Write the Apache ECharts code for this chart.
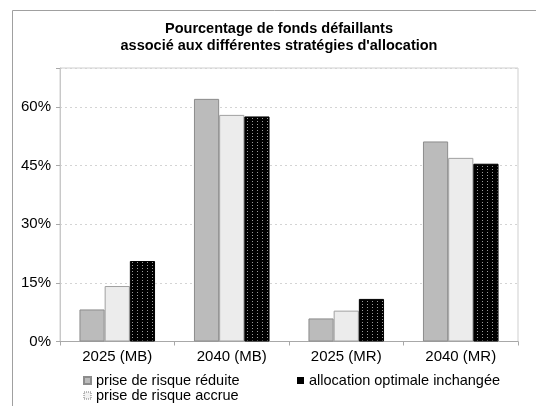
<!DOCTYPE html>
<html>
<head>
<meta charset="utf-8">
<script src="https://cdn.jsdelivr.net/npm/echarts@6/dist/echarts.min.js"></script>
<style>
  html, body { margin: 0; padding: 0; background: #fff; }
  #chart { width: 536px; height: 406px; }
</style>
</head>
<body>
<div id="chart"></div>
<script>
// Share of defaulting funds per allocation strategy (%)
const categories = ['2025 (MB)', '2040 (MB)', '2025 (MR)', '2040 (MR)'];
const seriesNames = ['prise de risque réduite', 'prise de risque accrue', 'allocation optimale inchangée'];
const risqueReduite = [8.2, 62.1, 5.9, 51.2];
const risqueAccrue = [14.2, 58.0, 7.9, 47.0];
const allocationInchangee = [20.6, 57.6, 10.9, 45.5];
const yTicks = [0, 15, 30, 45, 60];

// Black fill with a grid of light dots
function dotPattern() {
  const c = document.createElement('canvas');
  c.width = 5; c.height = 3;
  const ctx = c.getContext('2d');
  ctx.fillStyle = '#000';
  ctx.fillRect(0, 0, 5, 3);
  ctx.fillStyle = '#9a9a9a';
  ctx.fillRect(2, 1, 1, 1);
  return c;
}

const font = 'Liberation Sans, Arial, sans-serif';
const chart = echarts.init(document.getElementById('chart'), null, { renderer: 'canvas' });

const legendText = { fontFamily: font, fontSize: 14.5, color: '#000', lineHeight: 12.5 };

chart.setOption({
  animation: false,
  backgroundColor: '#fff',
  title: {
    text: 'Pourcentage de fonds défaillants\nassocié aux différentes stratégies d\'allocation',
    left: 274,
    textAlign: 'center',
    top: 15,
    textStyle: { fontFamily: font, fontSize: 14.5, fontWeight: 'bold', color: '#000', lineHeight: 17 }
  },
  graphic: [{
    type: 'rect',
    shape: { x: 12.5, y: 10.5, width: 540, height: 420 },
    style: { fill: 'none', stroke: '#a0a0a0', lineWidth: 1 },
    silent: true
  }],
  legend: [{
    orient: 'vertical',
    left: 83,
    top: 373,
    height: 40,
    padding: 0,
    itemWidth: 7,
    itemHeight: 7,
    itemGap: 0,
    icon: 'rect',
    textStyle: legendText,
    data: [
      { name: seriesNames[0] },
      { name: seriesNames[1], itemStyle: { color: '#f2f2f2', borderColor: '#777', borderType: 'dotted', borderWidth: 1 } }
    ]
  }, {
    orient: 'vertical',
    left: 297,
    top: 373,
    padding: 0,
    itemWidth: 7,
    itemHeight: 7,
    icon: 'rect',
    textStyle: legendText,
    data: [{ name: seriesNames[2], itemStyle: { color: '#000', borderWidth: 0 } }]
  }],
  grid: {
    left: 60, top: 68, right: 18, bottom: 64.5,
    show: true, borderColor: '#cfcfcf', borderWidth: 1, backgroundColor: '#fff'
  },
  xAxis: {
    type: 'category',
    data: categories,
    axisLine: { lineStyle: { color: '#a8a8a8' } },
    axisTick: { show: true, length: 4, lineStyle: { color: '#a8a8a8' } },
    axisLabel: { fontFamily: font, fontSize: 15, color: '#000', margin: 8 }
  },
  yAxis: {
    type: 'value',
    min: 0,
    max: 70,
    interval: 15,
    axisLine: { show: true, lineStyle: { color: '#c8c8c8' } },
    axisTick: { show: true, length: 4, lineStyle: { color: '#a8a8a8' } },
    axisLabel: {
      fontFamily: font, fontSize: 15, color: '#000', margin: 9,
      formatter: v => (yTicks.indexOf(v) >= 0 ? v + '%' : '')
    },
    splitLine: { lineStyle: { color: '#d4d4d4', type: [2, 3] } }
  },
  series: [{
    name: seriesNames[0],
    type: 'bar',
    data: risqueReduite,
    barGap: '0%',
    barCategoryGap: '34%',
    itemStyle: { color: '#bbbbbb', borderColor: '#8c8c8c', borderWidth: 1 }
  }, {
    name: seriesNames[1],
    type: 'bar',
    data: risqueAccrue,
    itemStyle: { color: '#ececec', borderColor: '#a0a0a0', borderWidth: 1 }
  }, {
    name: seriesNames[2],
    type: 'bar',
    data: allocationInchangee,
    itemStyle: { color: { image: dotPattern(), repeat: 'repeat' }, borderColor: '#000', borderWidth: 1 }
  }]
});
</script>
</body>
</html>
